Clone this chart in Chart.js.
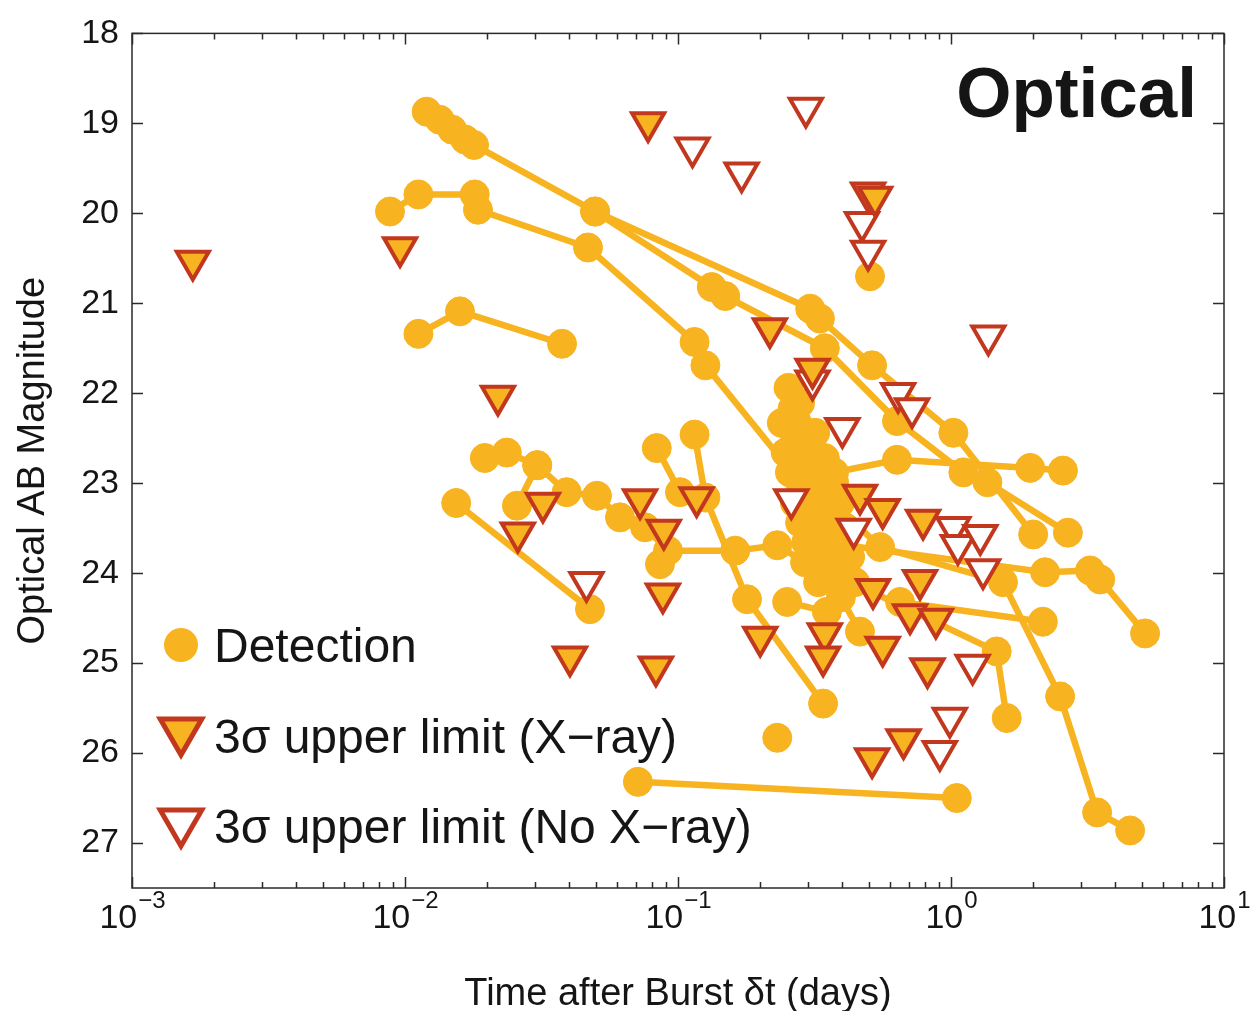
<!DOCTYPE html>
<html>
<head>
<meta charset="utf-8">
<script src="https://cdn.jsdelivr.net/npm/chart.js@4/dist/chart.umd.min.js"></script>
<style>
  html, body { margin: 0; background: #fff; }
  #wrap { width: 1252px; height: 1011px; position: relative; }
</style>
</head>
<body>
<div id="wrap"><canvas id="chart"></canvas></div>
<script>
// axis ticks
const magTicks = [18, 19, 20, 21, 22, 23, 24, 25, 26, 27];
const timeTicks = [0.001, 0.01, 0.1, 1, 10];
const timeTickExp = ['\u22123', '\u22122', '\u22121', '0', '1'];

// detections, one light curve per row (time in days, AB mag)
const detTimes = [
  [0.0120, 0.0134, 0.0149, 0.0166, 0.0179, 0.0497, 0.305, 0.331, 0.514, 1.02, 2.00],
  [0.0497, 0.133, 0.149, 0.345, 0.634, 1.11, 1.36, 2.68],
  [0.00881, 0.0112, 0.0180, 0.0185, 0.0468, 0.115, 0.126, 0.280, 0.318],
  [0.0112, 0.0159, 0.0376],
  [0.0154, 0.0476],
  [0.0196, 0.0236, 0.0305, 0.0391, 0.0505, 0.0613, 0.0757, 0.0919, 0.162, 0.231, 0.292],
  [0.0257, 0.0305],
  [0.0836, 0.1017],
  [0.115, 0.126, 0.179, 0.340],
  [0.251, 0.351],
  [0.231],
  [0.0713, 1.05],
  [0.254, 0.263, 0.268, 0.280, 0.288, 0.302, 0.311, 0.321, 0.331, 0.342, 0.353, 0.364, 0.376, 0.395, 0.464],
  [0.305, 0.373, 0.634, 1.95, 2.57],
  [0.373, 0.550, 1.55, 2.51, 3.43, 4.53],
  [0.345, 2.21, 3.23, 3.52, 5.14],
  [0.392, 1.47, 1.60],
  [0.651, 2.17],
  [0.505],
  [0.0859],
  [0.280, 0.318, 0.345, 0.373, 0.392, 0.409, 0.427, 0.445],
  [0.240, 0.248, 0.257, 0.268, 0.280, 0.295, 0.311, 0.326]
];
const detMags = [
  [18.87, 18.96, 19.07, 19.18, 19.24, 19.98, 21.06, 21.17, 21.69, 22.44, 23.57],
  [19.98, 20.82, 20.92, 21.50, 22.31, 22.88, 22.99, 23.55],
  [19.98, 19.79, 19.79, 19.96, 20.38, 21.43, 21.69, 22.99, 23.22],
  [21.34, 21.09, 21.45],
  [23.22, 24.40],
  [22.72, 22.66, 22.80, 23.10, 23.14, 23.38, 23.49, 23.75, 23.75, 23.69, 23.88],
  [23.25, 22.80],
  [22.61, 23.10],
  [22.46, 23.16, 24.29, 25.45],
  [24.32, 24.43],
  [25.83],
  [26.32, 26.50],
  [21.94, 22.17, 22.39, 22.61, 22.77, 22.94, 23.10, 23.27, 23.44, 23.60, 23.77, 23.93, 24.10, 24.27, 24.65],
  [22.66, 22.88, 22.74, 22.83, 22.86],
  [23.22, 23.71, 24.10, 25.37, 26.66, 26.86],
  [23.66, 23.99, 23.97, 24.07, 24.67],
  [24.04, 24.87, 25.61],
  [24.32, 24.54],
  [20.70],
  [23.90],
  [22.11, 22.44, 22.72, 22.99, 23.22, 23.49, 23.82, 24.10],
  [22.33, 22.66, 22.88, 23.22, 23.44, 23.66, 23.88, 24.10]
];

// 3 sigma upper limits, bursts with an X-ray afterglow
const xrayLimTimes = [0.00167, 0.00959, 0.0219, 0.0777, 0.217, 0.497, 0.527, 0.311, 0.0320, 0.0259,
  0.0726, 0.0887, 0.117, 0.0880, 0.0402, 0.0830, 0.200, 0.345, 0.340, 0.464,
  0.562, 0.518, 0.562, 0.770, 0.708, 0.880, 0.790, 0.820, 0.514, 0.670];
const xrayLimMags = [20.53, 20.38, 22.03, 18.99, 21.28, 19.77, 19.82, 21.73, 23.22, 23.55,
  23.18, 23.52, 23.16, 24.23, 24.93, 25.04, 24.71, 24.67, 24.93, 23.13,
  23.29, 24.18, 24.82, 24.08, 24.46, 24.51, 23.41, 25.06, 26.06, 25.85];

// 3 sigma upper limits, no X-ray afterglow
const noXrayLimTimes = [0.294, 0.113, 0.171, 0.472, 0.497, 1.37, 0.311, 0.400, 0.640, 0.720,
  0.260, 0.440, 1.02, 1.06, 1.28, 1.31, 1.20, 0.99, 0.91, 0.0462];
const noXrayLimMags = [18.83, 19.27, 19.55, 20.10, 20.42, 21.36, 21.86, 22.39, 22.00, 22.17,
  23.18, 23.51, 23.49, 23.69, 23.58, 23.96, 25.02, 25.61, 25.98, 24.10];

const ORANGE = '#F8B320';
const RED = '#C2381F';
const INK = '#151515';
const FONT = '"Liberation Sans", Arial, Helvetica, sans-serif';

const toPoints = (ts, ms) => ts.map((t, i) => ({x: t, y: ms[i]}));

const detSets = detTimes.map((ts, i) => ({
  label: 'Detection',
  data: toPoints(ts, detMags[i]),
  showLine: true,
  borderColor: ORANGE,
  borderWidth: 6.5,
  backgroundColor: ORANGE,
  pointRadius: 14.5,
  pointHoverRadius: 14.5,
  pointBorderWidth: 1,
  pointBorderColor: ORANGE,
  order: 2
}));

const limitSet = (label, ts, ms, fill) => ({
  label: label,
  data: toPoints(ts, ms),
  showLine: false,
  pointStyle: 'triangle',
  rotation: 180,
  pointRadius: 18.5,
  pointHoverRadius: 18.5,
  pointBorderWidth: 4,
  pointBorderColor: RED,
  pointBackgroundColor: fill,
  order: 0
});

// box, inward ticks, tick labels with exponents, titles and legend
const decorations = {
  id: 'decorations',
  afterDraw(chart) {
    const {ctx, chartArea: a, scales: {x, y}} = chart;
    ctx.save();
    ctx.strokeStyle = '#2a2a2a';
    ctx.lineWidth = 1.5;
    ctx.strokeRect(a.left, a.top, a.right - a.left, a.bottom - a.top);

    ctx.beginPath();
    magTicks.forEach(v => {
      const py = Math.round(y.getPixelForValue(v)) + 0.5;
      ctx.moveTo(a.left, py); ctx.lineTo(a.left + 11, py);
      ctx.moveTo(a.right, py); ctx.lineTo(a.right - 11, py);
    });
    timeTicks.forEach((v, i) => {
      const px = Math.round(x.getPixelForValue(v)) + 0.5;
      ctx.moveTo(px, a.bottom); ctx.lineTo(px, a.bottom - 11);
      ctx.moveTo(px, a.top); ctx.lineTo(px, a.top + 11);
      if (i < timeTicks.length - 1) {
        for (let k = 2; k < 10; k++) {
          const mx = Math.round(x.getPixelForValue(v * k)) + 0.5;
          ctx.moveTo(mx, a.bottom); ctx.lineTo(mx, a.bottom - 6);
          ctx.moveTo(mx, a.top); ctx.lineTo(mx, a.top + 6);
        }
      }
    });
    ctx.stroke();

    ctx.fillStyle = INK;
    ctx.textBaseline = 'alphabetic';
    timeTicks.forEach((v, i) => {
      const px = x.getPixelForValue(v);
      ctx.font = '34px ' + FONT;
      const wBase = ctx.measureText('10').width;
      ctx.font = '24px ' + FONT;
      const wExp = ctx.measureText(timeTickExp[i]).width;
      const x0 = px - (wBase + wExp) / 2;
      ctx.textAlign = 'left';
      ctx.font = '34px ' + FONT;
      ctx.fillText('10', x0, a.bottom + 40);
      ctx.font = '24px ' + FONT;
      ctx.fillText(timeTickExp[i], x0 + wBase + 1, a.bottom + 20);
    });

    ctx.font = '38px ' + FONT;
    ctx.textAlign = 'center';
    ctx.fillText('Time after Burst \u03b4t (days)', (a.left + a.right) / 2, 1005);
    ctx.save();
    ctx.translate(44, (a.top + a.bottom) / 2);
    ctx.rotate(-Math.PI / 2);
    ctx.fillText('Optical AB Magnitude', 0, 0);
    ctx.restore();

    ctx.font = 'bold 71px ' + FONT;
    ctx.textAlign = 'right';
    ctx.fillText('Optical', 1197, 117);

    // legend
    ctx.fillStyle = ORANGE;
    ctx.beginPath();
    ctx.arc(181, 645, 17, 0, Math.PI * 2);
    ctx.fill();
    const tri = (cx, cy, r, fill) => {
      ctx.beginPath();
      ctx.moveTo(cx - r * 0.866, cy - r / 2);
      ctx.lineTo(cx + r * 0.866, cy - r / 2);
      ctx.lineTo(cx, cy + r);
      ctx.closePath();
      ctx.fillStyle = fill;
      ctx.fill();
      ctx.lineWidth = 5;
      ctx.strokeStyle = RED;
      ctx.lineJoin = 'miter';
      ctx.stroke();
    };
    tri(181, 731, 24, ORANGE);
    tri(181, 822, 24, '#ffffff');
    ctx.fillStyle = INK;
    ctx.textAlign = 'left';
    ctx.font = '48px ' + FONT;
    ctx.fillText('Detection', 214, 662);
    ctx.fillText('3\u03c3 upper limit (X\u2212ray)', 214, 753);
    ctx.fillText('3\u03c3 upper limit (No X\u2212ray)', 214, 843);
    ctx.restore();
  }
};

new Chart(document.getElementById('chart'), {
  type: 'scatter',
  data: {
    datasets: [
      ...detSets,
      limitSet('3\u03c3 upper limit (X\u2212ray)', xrayLimTimes, xrayLimMags, ORANGE),
      limitSet('3\u03c3 upper limit (No X\u2212ray)', noXrayLimTimes, noXrayLimMags, '#ffffff')
    ]
  },
  options: {
    responsive: true,
    maintainAspectRatio: false,
    animation: false,
    devicePixelRatio: 1,
    events: [],
    layout: {padding: {top: 28, right: 28, left: 0, bottom: 0}},
    plugins: {legend: {display: false}, tooltip: {enabled: false}},
    scales: {
      x: {
        type: 'logarithmic',
        min: 0.001,
        max: 10,
        grid: {display: false, drawTicks: false},
        border: {display: false},
        ticks: {display: false},
        afterBuildTicks: s => { s.ticks = timeTicks.map(v => ({value: v})); },
        afterFit: s => { s.height = 123; }
      },
      y: {
        type: 'linear',
        reverse: true,
        min: 18,
        max: 27.5,
        grid: {display: false, drawTicks: false},
        border: {display: false},
        ticks: {color: INK, font: {size: 34, family: FONT}, padding: 13},
        afterBuildTicks: s => { s.ticks = magTicks.map(v => ({value: v})); },
        afterFit: s => { s.width = 132; }
      }
    }
  },
  plugins: [decorations]
});
</script>
</body>
</html>
